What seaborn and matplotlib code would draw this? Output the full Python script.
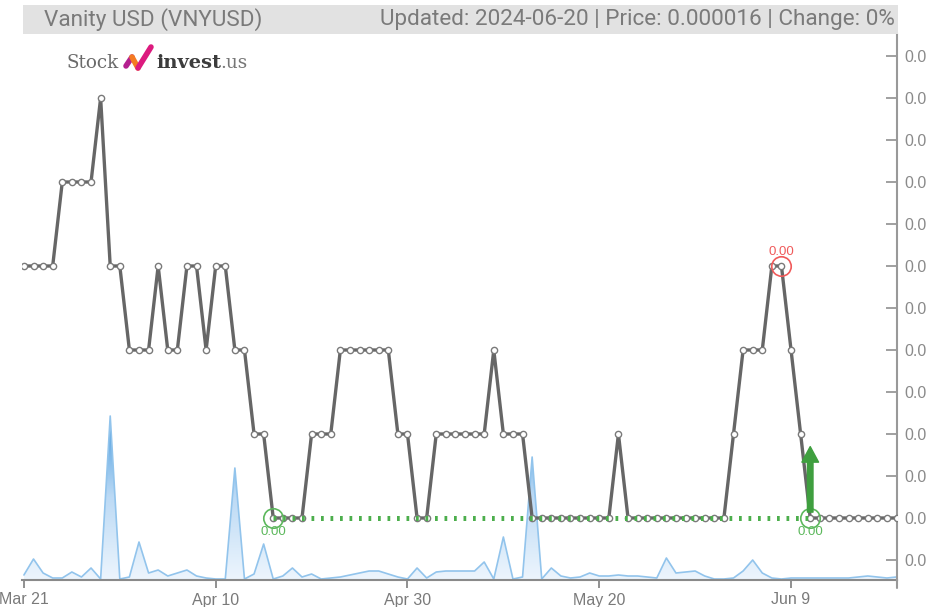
import numpy as np
import pandas as pd
import matplotlib
matplotlib.use("Agg")
import matplotlib.pyplot as plt
import matplotlib.dates as mdates
from matplotlib.patches import Rectangle
from matplotlib.lines import Line2D
from matplotlib.colors import LinearSegmentedColormap
import seaborn as sns

sns.set_theme(style="white")
plt.rcParams['font.family'] = ['Liberation Sans', 'DejaVu Sans']

# daily closes, Mar 21 .. Jun 20 2024
dates = pd.date_range("2024-03-21", "2024-06-20", freq="D")
price = [0.000019, 0.000019, 0.000019, 0.000019,
         0.000020, 0.000020, 0.000020, 0.000020,
         0.000021,
         0.000019, 0.000019,
         0.000018, 0.000018, 0.000018,
         0.000019,
         0.000018, 0.000018,
         0.000019, 0.000019,
         0.000018,
         0.000019, 0.000019,
         0.000018, 0.000018,
         0.000017, 0.000017,
         0.000016, 0.000016, 0.000016, 0.000016,
         0.000017, 0.000017, 0.000017,
         0.000018, 0.000018, 0.000018, 0.000018, 0.000018, 0.000018,
         0.000017, 0.000017,
         0.000016, 0.000016,
         0.000017, 0.000017, 0.000017, 0.000017, 0.000017, 0.000017,
         0.000018,
         0.000017, 0.000017, 0.000017,
         0.000016, 0.000016, 0.000016, 0.000016, 0.000016, 0.000016,
         0.000016, 0.000016, 0.000016,
         0.000017,
         0.000016, 0.000016, 0.000016, 0.000016, 0.000016, 0.000016,
         0.000016, 0.000016, 0.000016, 0.000016, 0.000016,
         0.000017,
         0.000018, 0.000018, 0.000018,
         0.000019, 0.000019,
         0.000018,
         0.000017,
         0.000016, 0.000016, 0.000016, 0.000016, 0.000016,
         0.000016, 0.000016, 0.000016, 0.000016, 0.000016]
# volume (thousands), hidden scale
volume = [4, 20, 6, 1, 1, 7, 2, 11, 0, 163,
          0, 2, 37, 6, 9, 3, 6, 9, 3, 1,
          0, 0, 111, 0, 5, 35, 0, 3, 11, 2,
          5, 0, 1, 2, 4, 6, 8, 8, 5, 2,
          0, 11, 1, 7, 8, 8, 8, 8, 17, 0,
          42, 0, 2, 122, 0, 11, 3, 1, 2, 6,
          3, 3, 4, 3, 3, 2, 1, 21, 6, 7,
          8, 3, 0, 0, 1, 8, 19, 6, 1, 0,
          1, 1, 1, 1, 1, 1, 1, 2, 3, 2,
          1, 2]

tick_dates = pd.to_datetime(["2024-03-21", "2024-04-10", "2024-04-30", "2024-05-20", "2024-06-09"])
tick_labels = ["Mar 21", "Apr 10", "Apr 30", "May 20", "Jun 9"]
y_ticks = [0.0000155, 0.0000160, 0.0000165, 0.0000170, 0.0000175, 0.0000180, 0.0000185,
           0.0000190, 0.0000195, 0.0000200, 0.0000205, 0.0000210, 0.0000215]

support_from = pd.Timestamp("2024-04-16")
support_to = pd.Timestamp("2024-06-11")
support_level = 0.000016
peak_date = pd.Timestamp("2024-06-08")
peak_level = 0.000019
arrow_top = 0.00001685

title_left = "Vanity USD (VNYUSD)"
title_right = "Updated: 2024-06-20 | Price: 0.000016 | Change: 0%"

df = pd.DataFrame({"date": dates, "price": price, "volume": volume})

W, H = 926, 607
fig = plt.figure(figsize=(W / 100, H / 100), dpi=100)
ax = fig.add_axes([22 / W, 27 / H, 875 / W, 546 / H])

# volume area with vertical gradient
xnum = mdates.date2num(df["date"])
poly = ax.fill_between(df["date"], 0, df["volume"], facecolor="none", edgecolor="none")
cmap = LinearSegmentedColormap.from_list("vol", ["#edf5fd", "#bcdaf5", "#4499de"])
grad = np.linspace(0, 1, 256).reshape(-1, 1)
im = ax.imshow(grad, extent=[xnum[0], xnum[-1], 0, 165], origin="lower",
               aspect="auto", cmap=cmap, zorder=1)
im.set_clip_path(poly.get_paths()[0], ax.transData)
sns.lineplot(data=df, x="date", y="volume", ax=ax, color="#92c4ec", lw=1.2, zorder=2)

ax.set_xlim(xnum[0] - 0.2, xnum[-1] + 0.05)
ax.set_ylim(-1, 545)
ax.set_yticks([])
ax.set_ylabel("")
ax.set_xlabel("")
ax.set_xticks(tick_dates)
ax.set_xticklabels(tick_labels)
ax.tick_params(axis="x", direction="out", length=6, width=1.3, color="#888888",
               labelcolor="#7a7a7a", labelsize=11.5, pad=3, bottom=True)
for s in ["top", "left", "right"]:
    ax.spines[s].set_visible(False)
ax.spines["bottom"].set_color("#8a8a8a")
ax.spines["bottom"].set_linewidth(1.5)

# price on the right axis
axp = ax.twinx()
sns.lineplot(data=df, x="date", y="price", ax=axp, color="#666666", lw=2.4,
             marker="o", markersize=4.5, markerfacecolor="white",
             markeredgecolor="#7a7a7a", markeredgewidth=1.0, zorder=3)
axp.plot([support_from, support_to], [support_level, support_level], color="#4cae4c",
         lw=3.6, linestyle=(0, (0.55, 1.35)), zorder=4)

axp.plot([support_from], [support_level], marker="o", markersize=14, mfc="none",
         mec="#5cb85c", mew=1.2, zorder=5)
axp.plot([support_to], [support_level], marker="o", markersize=14, mfc="none",
         mec="#5cb85c", mew=1.2, zorder=5)
axp.plot([peak_date], [peak_level], marker="o", markersize=14, mfc="none",
         mec="#f05a5a", mew=1.2, zorder=5)
for d in [support_from, support_to]:
    axp.annotate("0.00", (d, support_level), xytext=(0, -6), textcoords="offset points",
                 ha="center", va="top", color="#5cb85c", fontsize=9.5)
axp.annotate("0.00", (peak_date, peak_level), xytext=(0, 6), textcoords="offset points",
             ha="center", va="bottom", color="#f05a5a", fontsize=9.5)
axp.annotate("", xy=(support_to, arrow_top), xytext=(support_to, 0.00001607),
             arrowprops=dict(arrowstyle="simple,head_length=1.4,head_width=1.5,tail_width=0.5",
                             mutation_scale=8, color="#3f9f3f", shrinkA=0, shrinkB=0),
             zorder=6)

axp.set_ylim(0.000016 - 62 / 84 * 1e-6, 0.000016 + 484 / 84 * 1e-6)
axp.set_yticks(y_ticks)
axp.set_yticklabels([f"{v:.7f}" for v in y_ticks])
axp.set_ylabel("")
axp.tick_params(axis="y", direction="in", length=8, width=1.3, color="#999999",
                labelcolor="#8a8a8a", labelsize=11.5, pad=5, right=True)
for s in ["top", "left", "bottom"]:
    axp.spines[s].set_visible(False)
axp.spines["right"].set_color("#999999")
axp.spines["right"].set_linewidth(1.5)
axp.set_xlim(ax.get_xlim())

# right axis runs a little past the bottom axis
fig.lines.append(Line2D([897 / W, 897 / W], [27 / H, 19 / H], transform=fig.transFigure,
                        color="#999999", lw=1.5))

# header bar
fig.patches.append(Rectangle((23 / W, 1 - 34 / H), 875 / W, 29 / H, transform=fig.transFigure,
                             facecolor="#e2e2e2", edgecolor="none", zorder=0))
fig.text(44 / W, 1 - 19.5 / H, title_left, ha="left", va="center", fontsize=16.2,
         color="#7a7a7a", family=["Roboto", "DejaVu Sans"])
fig.text(895 / W, 1 - 19.5 / H, title_right, ha="right", va="center", fontsize=16.2,
         color="#7a7a7a", family=["Roboto", "DejaVu Sans"])

# logo
fig.text(67 / W, 1 - 68 / H, "Stock", ha="left", va="baseline", fontsize=13.2,
         color="#6a6a6a", family=["DejaVu Serif"])
check = [(126, 66, 132, 57, "#b4208f"), (132, 57, 138, 68, "#f47a22"),
         (138, 68, 151, 47, "#dc1a7e")]
for x0, y0, x1, y1, c in check:
    fig.lines.append(Line2D([x0 / W, x1 / W], [1 - y0 / H, 1 - y1 / H],
                            transform=fig.transFigure, color=c, lw=4.0,
                            solid_capstyle="round"))
fig.text(156 / W, 1 - 68 / H, "invest", ha="left", va="baseline", fontsize=14,
         color="#3c3c3c", fontweight="bold", family=["DejaVu Serif"])
fig.text(220 / W, 1 - 68 / H, ".us", ha="left", va="baseline", fontsize=13.2,
         color="#777777", family=["DejaVu Serif"])

fig.savefig("out.png", dpi=100)
